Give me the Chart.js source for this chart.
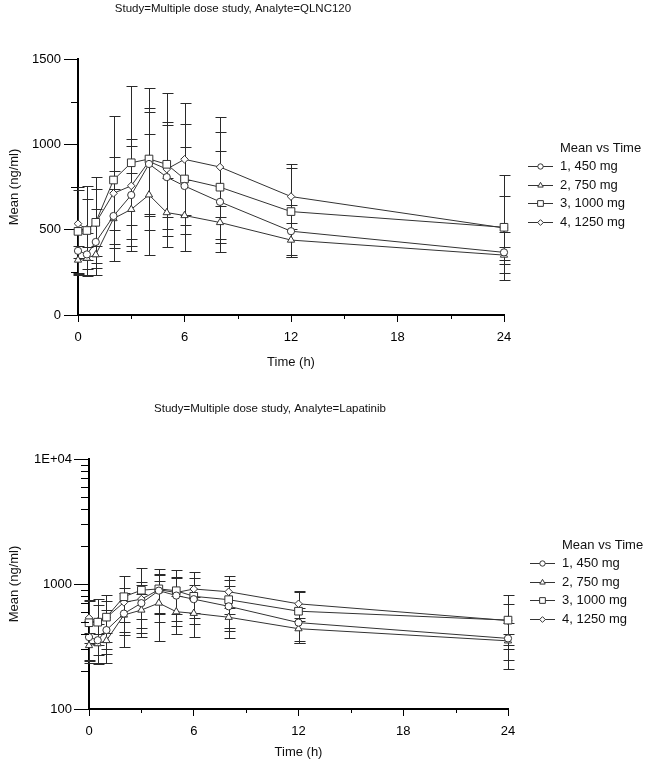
<!DOCTYPE html>
<html>
<head>
<meta charset="utf-8">
<script src="https://cdn.jsdelivr.net/npm/chart.js@4.4.1/dist/chart.umd.min.js"></script>
<style>
html, body { margin: 0; padding: 0; background: #fff; }
canvas { position: absolute; left: 0; }
#top { top: 0; }
#bottom { top: 395px; }
</style>
</head>
<body>
<canvas id="top" width="650" height="390"></canvas>
<canvas id="bottom" width="650" height="376"></canvas>
<script>
// ---- data ----
const times = [0, 0.5, 1, 2, 3, 4, 5, 6, 8, 12, 24];
const doseLabels = ['1, 450 mg', '2, 750 mg', '3, 1000 mg', '4, 1250 mg'];
const mean450  = [376, 355, 428, 580, 703, 885, 808, 756, 663, 491, 367];
const sd450    = [128, 125, 195, 265, 326, 305, 303, 226, 296, 153, 121];
const mean750  = [322, 333, 353, 565, 619, 704, 600, 583, 542, 439, 351];
const sd750    = [80, 65, 51, 172, 215, 355, 200, 206, 96, 100, 50];
const mean1000 = [490, 495, 543, 791, 892, 914, 883, 797, 749, 606, 514];
const sd1000   = [258, 260, 268, 375, 449, 414, 419, 320, 325, 253, 306];
const mean1250 = [535, 502, 540, 713, 757, 900, 855, 912, 867, 694, 510];
const sd1250   = [200, 178, 196, 214, 232, 311, 278, 328, 295, 189, 187];
const timeTicks = [0, 6, 12, 18, 24];
const timeMinorTicks = [3, 9, 15, 21];
const linearTicks = [0, 500, 1000, 1500];
const linearTickLabels = ['0', '500', '1000', '1500'];
const linearMinorTicks = [250, 750, 1250];
const logTicks = [100, 1000, 10000];
const logTickLabels = ['100', '1000', '1E+04'];
const logMinorTicks = [200, 300, 400, 500, 600, 700, 800, 900, 2000, 3000, 4000, 5000, 6000, 7000, 8000, 9000];
const titleTop = 'Study=Multiple dose study, Analyte=QLNC120';
const titleBottom = 'Study=Multiple dose study, Analyte=Lapatinib';
const legendTitle = 'Mean vs Time';
const xTitle = 'Time (h)';
const yTitle = 'Mean (ng/ml)';

// ---- styling ----
const FONT = '"Liberation Sans", Arial, sans-serif';
const LINE = '#333333';
const BAR = '#2a2a2a';
const TEXT = '#111111';
const means = [mean450, mean750, mean1000, mean1250];
const sds = [sd450, sd750, sd1000, sd1250];
const markers = [
  { style: 'circle', r: 3.6 },
  { style: 'triangle', r: 4.2 },
  { style: 'rect', r: 5.4 },
  { style: 'rectRot', r: 3.8 }
];

Chart.defaults.font.family = FONT;
Chart.defaults.font.size = 13;
Chart.defaults.color = '#000';

function makeDatasets() {
  return means.map((m, i) => ({
    label: doseLabels[i],
    data: times.map((t, j) => ({ x: t, y: m[j] })),
    sd: sds[i],
    borderColor: LINE,
    borderWidth: 1,
    backgroundColor: '#fff',
    pointStyle: markers[i].style,
    pointRadius: markers[i].r,
    pointHoverRadius: markers[i].r,
    pointBorderWidth: 1,
    pointBorderColor: LINE,
    pointBackgroundColor: '#fff',
    tension: 0,
    fill: false,
    clip: false
  }));
}

const errorBars = {
  id: 'errorBars',
  beforeDatasetsDraw(chart) {
    const ctx = chart.ctx, xs = chart.scales.x, ys = chart.scales.y;
    ctx.save();
    ctx.strokeStyle = BAR;
    ctx.lineWidth = 1;
    chart.data.datasets.forEach(ds => {
      ds.data.forEach((p, j) => {
        const sd = ds.sd[j];
        const x = Math.round(xs.getPixelForValue(p.x)) + 0.5;
        const yT = Math.round(ys.getPixelForValue(p.y + sd)) + 0.5;
        const yB = Math.round(ys.getPixelForValue(p.y - sd)) + 0.5;
        ctx.beginPath();
        ctx.moveTo(x, yT); ctx.lineTo(x, yB);
        ctx.moveTo(x - 5, yT); ctx.lineTo(x + 6, yT);
        ctx.moveTo(x - 5, yB); ctx.lineTo(x + 6, yB);
        ctx.stroke();
      });
    });
    ctx.restore();
  }
};

const decor = {
  id: 'decor',
  afterDraw(chart, args, o) {
    const ctx = chart.ctx, xs = chart.scales.x, ys = chart.scales.y, ca = chart.chartArea;
    ctx.save();
    ctx.strokeStyle = '#000';
    ctx.lineWidth = 1;
    ctx.beginPath();
    o.xMinor.forEach(v => {
      const x = Math.round(xs.getPixelForValue(v)) + 0.5;
      ctx.moveTo(x, ca.bottom); ctx.lineTo(x, ca.bottom + o.xMinorLen);
    });
    o.yMinor.forEach(v => {
      const y = Math.round(ys.getPixelForValue(v)) + 0.5;
      ctx.moveTo(ca.left - o.yMinorLen, y); ctx.lineTo(ca.left, y);
    });
    ctx.stroke();
    // title
    ctx.fillStyle = TEXT;
    ctx.font = '11.5px ' + FONT;
    ctx.textAlign = 'center';
    ctx.textBaseline = 'middle';
    ctx.fillText(o.title, o.titleX, o.titleY);
    // legend
    ctx.font = '13px ' + FONT;
    ctx.textAlign = 'left';
    ctx.fillText(legendTitle, o.legX + 32, o.legY);
    chart.data.datasets.forEach((ds, i) => {
      const y = Math.round(o.legY + 18.4 * (i + 1)) + 0.5;
      ctx.strokeStyle = LINE;
      ctx.beginPath();
      ctx.moveTo(o.legX, y); ctx.lineTo(o.legX + 25, y);
      ctx.stroke();
      ctx.fillStyle = '#fff';
      ctx.strokeStyle = LINE;
      ctx.lineWidth = 1;
      Chart.helpers.drawPoint(ctx, { pointStyle: markers[i].style, radius: markers[i].r * 0.75, rotation: 0, borderWidth: 1 }, o.legX + 12.5, y);
      ctx.fillStyle = TEXT;
      ctx.fillText(ds.label, o.legX + 32, y);
    });
    ctx.restore();
  }
};

function makeChart(id, cfg) {
  const yScale = cfg.log ? {
    type: 'logarithmic', min: 100, max: 10000,
    afterBuildTicks: s => { s.ticks = logTicks.map(v => ({ value: v })); },
    ticks: { callback: v => logTickLabels[logTicks.indexOf(v)] ?? '', padding: 2, color: '#000', font: { size: 13 } },
    grid: { drawOnChartArea: false, tickLength: 15, tickColor: '#000', tickWidth: 1 },
    border: { color: '#000', width: 2 },
    title: { display: true, text: yTitle, color: TEXT, font: { size: 13 }, padding: { top: 7, bottom: 0 } },
    afterFit: s => { s.width = cfg.yWidth; }
  } : {
    type: 'linear', min: 0, max: 1500,
    afterBuildTicks: s => { s.ticks = linearTicks.map(v => ({ value: v })); },
    ticks: { callback: v => linearTickLabels[linearTicks.indexOf(v)] ?? '', padding: 3, color: '#000', font: { size: 13 } },
    grid: { drawOnChartArea: false, tickLength: 14, tickColor: '#000', tickWidth: 1 },
    border: { color: '#000', width: 2 },
    title: { display: true, text: yTitle, color: TEXT, font: { size: 13 }, padding: { top: 7, bottom: 0 } },
    afterFit: s => { s.width = cfg.yWidth; }
  };
  return new Chart(document.getElementById(id), {
    type: 'line',
    data: { datasets: makeDatasets() },
    options: {
      responsive: false,
      animation: false,
      devicePixelRatio: 1,
      events: [],
      layout: { padding: { top: cfg.padTop, right: cfg.padRight, left: 0, bottom: 0 } },
      plugins: {
        legend: { display: false },
        title: { display: false },
        tooltip: { enabled: false },
        decor: cfg.decor
      },
      scales: {
        x: {
          type: 'linear', min: 0, max: 24,
          afterBuildTicks: s => { s.ticks = timeTicks.map(v => ({ value: v })); },
          ticks: { padding: 8, color: '#000', font: { size: 13 }, maxRotation: 0 },
          grid: { drawOnChartArea: false, tickLength: 7, tickColor: '#000', tickWidth: 1 },
          border: { color: '#000', width: 2 },
          title: { display: true, text: xTitle, color: TEXT, font: { size: 13 }, padding: { top: 0, bottom: cfg.xTitlePad } },
          afterFit: s => { s.height = cfg.xHeight; }
        },
        y: yScale
      }
    },
    plugins: [errorBars, decor]
  });
}

makeChart('top', {
  log: false, yWidth: 78, padTop: 59, padRight: 146, xHeight: 75, xTitlePad: 20,
  decor: { xMinor: timeMinorTicks, yMinor: linearMinorTicks, xMinorLen: 4, yMinorLen: 7,
           title: titleTop, titleX: 233, titleY: 9, legX: 528, legY: 148 }
});
makeChart('bottom', {
  log: true, yWidth: 89, padTop: 64, padRight: 142, xHeight: 62, xTitlePad: 11,
  decor: { xMinor: timeMinorTicks, yMinor: logMinorTicks, xMinorLen: 4, yMinorLen: 8,
           title: titleBottom, titleX: 270, titleY: 14, legX: 530, legY: 150 }
});
</script>
</body>
</html>
